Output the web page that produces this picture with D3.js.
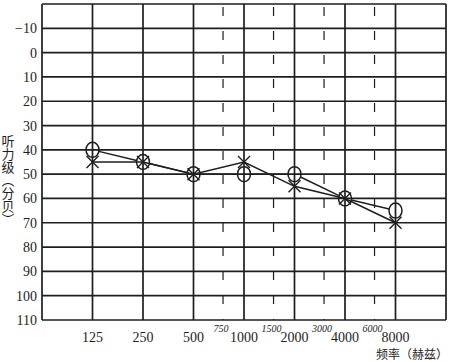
<!DOCTYPE html>
<html>
<head>
<meta charset="utf-8">
<script src="https://cdn.jsdelivr.net/npm/d3@7"></script>
<style>
  body { margin: 0; background: #fff; }
  svg text { font-family: "Liberation Serif", "DejaVu Serif", serif; fill: #1e1e1e; }
  .cjk { font-family: "Noto Sans CJK SC", sans-serif; }
</style>
</head>
<body>
<div id="canvas"></div>
<script>
var freqs = [125, 250, 500, 1000, 2000, 4000, 8000];
var midFreqs = [750, 1500, 3000, 6000];
var dbTicks = [-10, 0, 10, 20, 30, 40, 50, 60, 70, 80, 90, 100, 110];
// right ear (O) and left ear (X)
var rightEar = [40, 45, 50, 50, 50, 60, 65];
var leftEar = [45, 45, 50, 45, 55, 60, 70];

var width = 450, height = 362;
var svg = d3.select("#canvas").append("svg")
    .attr("width", width)
    .attr("height", height);

var x = d3.scaleLog().base(2).domain([62.5, 16000]).range([42, 446]);
var y = d3.scaleLinear().domain([-20, 110]).range([4, 320]);

var ink = "#1e1e1e";

// grid
var grid = svg.append("g");
grid.selectAll(".h").data([-20].concat(dbTicks)).enter().append("line")
    .attr("x1", x(62.5)).attr("x2", x(16000))
    .attr("y1", d => y(d)).attr("y2", d => y(d))
    .attr("stroke", ink).attr("stroke-width", 1.7);
grid.selectAll(".v").data([62.5].concat(freqs, [16000])).enter().append("line")
    .attr("x1", d => x(d)).attr("x2", d => x(d))
    .attr("y1", y(-20)).attr("y2", y(110))
    .attr("stroke", ink).attr("stroke-width", 1.7);
grid.selectAll(".m").data(midFreqs).enter().append("line")
    .attr("x1", d => x(d)).attr("x2", d => x(d))
    .attr("y1", y(-20)).attr("y2", y(110))
    .attr("stroke", ink).attr("stroke-width", 1.2)
    .attr("stroke-dasharray", "9,15")
    .attr("stroke-dashoffset", -3);

// y tick labels
svg.append("g").selectAll("text").data(dbTicks).enter().append("text")
    .attr("x", 37).attr("y", d => y(d) + 5)
    .attr("text-anchor", "end")
    .attr("font-size", 14)
    .text(d => d < 0 ? "\u2212" + Math.abs(d) : d);

// x tick labels
svg.append("g").selectAll("text").data(freqs).enter().append("text")
    .attr("x", d => x(d)).attr("y", 342)
    .attr("text-anchor", "middle")
    .attr("font-size", 14)
    .text(d => d);
svg.append("g").selectAll("text").data(midFreqs).enter().append("text")
    .attr("x", d => x(d) - 2).attr("y", 332)
    .attr("text-anchor", "middle")
    .attr("font-size", 10)
    .attr("font-style", "italic")
    .text(d => d);

// axis titles
svg.append("text").attr("class", "cjk")
    .attr("x", 376).attr("y", 359)
    .attr("font-size", 12)
    .text("频率（赫兹）");
svg.append("text").attr("class", "cjk")
    .attr("x", 8).attr("y", 135)
    .attr("font-size", 13)
    .style("writing-mode", "vertical-rl")
    .text("听力级（分贝）");

// series lines
var rx = 6.5, ry = 7.5;
function pts(vals) { return freqs.map((f, i) => [x(f), y(vals[i])]); }

var leftPts = pts(leftEar);
svg.append("path")
    .attr("d", d3.line()(leftPts))
    .attr("fill", "none").attr("stroke", ink).attr("stroke-width", 1.5);

// O line: trimmed at circle edges
var rightPts = pts(rightEar);
var g = svg.append("g");
for (var i = 0; i < rightPts.length - 1; i++) {
  var a = rightPts[i], b = rightPts[i + 1];
  var dx = b[0] - a[0], dy = b[1] - a[1];
  var t = 1 / Math.sqrt((dx * dx) / (rx * rx) + (dy * dy) / (ry * ry));
  g.append("line")
      .attr("x1", a[0] + dx * t).attr("y1", a[1] + dy * t)
      .attr("x2", b[0] - dx * t).attr("y2", b[1] - dy * t)
      .attr("stroke", ink).attr("stroke-width", 1.5);
}

// O markers
svg.append("g").selectAll("ellipse").data(rightPts).enter().append("ellipse")
    .attr("cx", d => d[0]).attr("cy", d => d[1])
    .attr("rx", rx).attr("ry", ry)
    .attr("fill", "none").attr("stroke", ink).attr("stroke-width", 1.5);

// X markers
var s = 6;
svg.append("g").selectAll("path").data(leftPts).enter().append("path")
    .attr("d", d => "M" + (d[0] - s) + "," + (d[1] - s) + "L" + (d[0] + s) + "," + (d[1] + s) +
                   "M" + (d[0] - s) + "," + (d[1] + s) + "L" + (d[0] + s) + "," + (d[1] - s))
    .attr("fill", "none").attr("stroke", ink).attr("stroke-width", 1.4);
</script>
</body>
</html>
